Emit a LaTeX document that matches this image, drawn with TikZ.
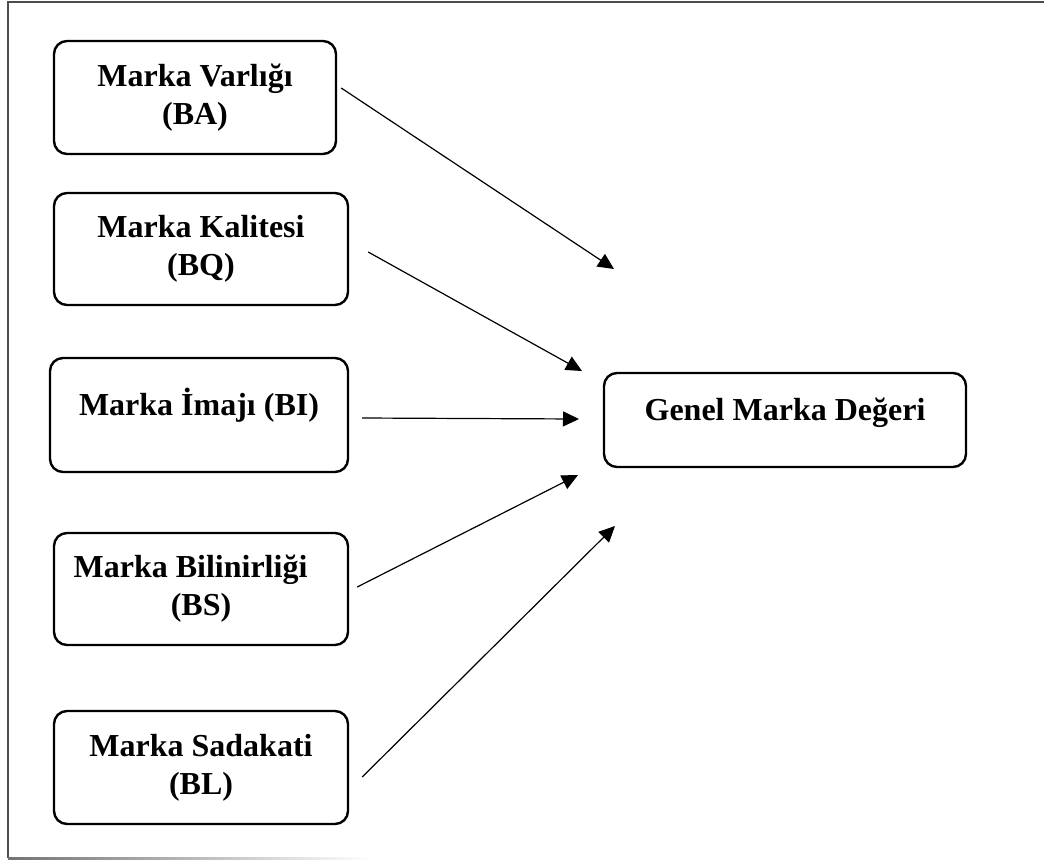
\documentclass[tikz,border=0pt]{standalone}
\usepackage{fontspec}
\setmainfont{Liberation Serif}
\usepackage{tikz}
\usetikzlibrary{arrows.meta,positioning}
\tikzset{
  basic/.style  = {draw, line width=2.4pt, rounded corners=13pt, align=center,
                   font=\fontsize{32}{38}\selectfont\bfseries, inner sep=0pt},
  factor/.style = {basic, minimum width=294pt, minimum height=112pt},
  oneline/.style = {text height=22pt, text depth=22pt},
  result/.style = {basic, oneline, minimum width=362pt, minimum height=94pt},
  link/.style   = {line width=1.2pt, -{Triangle[length=16pt,width=15pt]}}
}

\begin{document}
\begin{tikzpicture}[x=1pt, y=-1pt]
\useasboundingbox (0,0) rectangle (1044,863);

% page frame, open on the right
\draw[black!70, line width=2pt] (1044,2) -- (8,2) -- (8,858);
\shade[left color=black!55, right color=white] (8,857) rectangle (372,859);

% the five brand factors, level 1
\node[factor, minimum width=282pt, minimum height=113pt] (ba) at (195,97.5) {Marka Varlığı\\(BA)};
\node[factor] (bq) at (201,249) {Marka Kalitesi\\(BQ)};
\node[factor, oneline, minimum width=298pt, minimum height=114pt] (bi) at (199,415) {Marka İmajı (BI)};
\node[factor] (bs) at (201,589) {Marka Bilinirliği\hspace*{21pt}\\(BS)};
\node[factor, minimum height=113pt] (bl) at (201,767.5) {Marka Sadakati\\(BL)};

% the outcome
\node[result] (gmd) at (785,420) {Genel Marka Değeri};

% arrow heads stop short of the outcome box
\coordinate (t1) at (614,269);
\coordinate (t2) at (582,371);
\coordinate (t3) at (579,419);
\coordinate (t4) at (578,475);
\coordinate (t5) at (615,526);

% lines from each factor towards the outcome
\draw[link] ([xshift=4pt,yshift=9.5pt]ba.east) -- (t1);
\draw[link] ([xshift=19pt,yshift=-3pt]bq.east) -- (t2);
\draw[link] ([xshift=13pt,yshift=-3pt]bi.east) -- (t3);
\draw[link] ([xshift=8pt,yshift=2pt]bs.east) -- (t4);
\draw[link] ([xshift=13pt,yshift=-9.5pt]bl.east) -- (t5);
\end{tikzpicture}
\end{document}
